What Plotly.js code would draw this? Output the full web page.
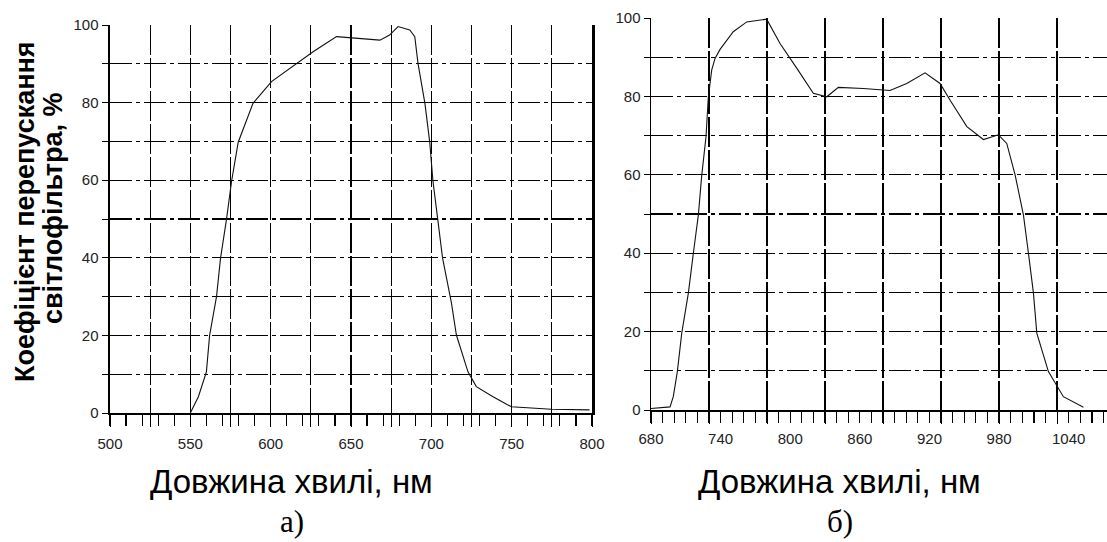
<!DOCTYPE html>
<html>
<head>
<meta charset="utf-8">
<script src="https://cdn.plot.ly/plotly-3.0.1.min.js"></script>
<style>html,body{margin:0;padding:0;background:#fff;}#chart{width:1107px;height:542px;}</style>
</head>
<body>
<div id="chart"></div>
<script>
// Panel a) : wavelength (nm) and transmittance (%)
const waveA = [550, 555, 560, 562, 566.3, 568.8, 572.5, 575.7, 579.8, 589, 600.5, 616, 626.4, 641, 651, 668, 674, 679.3, 686.6, 689.7, 691.7, 696, 699, 701, 704, 707, 712.5, 715.6, 722.8, 728, 738.4, 749.8, 774.7, 798.5];
const transA = [0, 4.2, 10.6, 20, 30, 39.9, 49.9, 59.8, 69.8, 79.8, 85.4, 90.1, 93.1, 97, 96.6, 96.1, 97.4, 99.6, 98.7, 97, 90.1, 79.8, 69.8, 59.8, 49.9, 39.9, 28.4, 20.1, 10.6, 6.8, 4.2, 1.6, 0.95, 0.8];

// Panel б)
const waveB = [680, 696.4, 699.2, 702.7, 706.5, 712.2, 716.5, 720.8, 723.7, 727.4, 729.4, 732.3, 735.2, 739.5, 750.9, 762.5, 779.7, 791.2, 805.6, 819.9, 831.5, 841.5, 863, 886, 900.4, 916.2, 929.1, 937.8, 952.2, 966.5, 979.4, 986.6, 993.8, 1001, 1005.3, 1009.6, 1012.5, 1022.5, 1035.4, 1052.7];
const transB = [0.4, 0.8, 3.4, 9.8, 19.6, 29.8, 40, 49.7, 59.8, 69.7, 79.8, 86.7, 89.7, 92, 96.5, 99, 99.7, 93.5, 87.2, 80.8, 79.9, 82.3, 82, 81.5, 83.3, 86, 83.3, 79, 72.3, 69, 70.2, 68, 60, 49.7, 40, 29.8, 19.6, 9.8, 3.4, 0.7];

// Tick definitions
const gridA = [500, 525, 550, 575, 600, 625, 650, 675, 700, 725, 750, 775, 800];
const gridLabelsA = ['500', '', '550', '', '600', '', '650', '', '700', '', '750', '', '800'];
const gridB = [680, 730, 780, 830, 880, 930, 980, 1030];
const labelB = [680, 740, 800, 860, 920, 980, 1040];
const labelTextB = ['680', '740', '800', '860', '920', '980', '1040'];
const gridY = [0, 10, 20, 30, 40, 50, 60, 70, 80, 90, 100];
const gridLabelsY = ['0', '', '20', '', '40', '', '60', '', '80', '', '100'];

const yTitle1 = 'Коефіцієнт перепускання';
const yTitle2 = 'світлофільтра, %';
const xTitle = 'Довжина хвилі, нм';
const panelA = 'а)';
const panelB = 'б)';

const W = 1107, H = 542;
const px = v => v / W;
const py = v => 1 - v / H;

const tickFont = {family: '"Liberation Sans Narrow", "Liberation Sans", Arial, sans-serif', size: 15, color: '#222'};
const gridCommon = {gridcolor: '#000', gridwidth: 1.3, showline: true, linecolor: '#000', zeroline: false, tickfont: tickFont, ticks: 'outside', tickcolor: '#000'};

const traces = [
  {x: waveA, y: transA, xaxis: 'x', yaxis: 'y', mode: 'lines', line: {color: '#111', width: 1.1}, hoverinfo: 'skip', showlegend: false},
  {x: waveB, y: transB, xaxis: 'x2', yaxis: 'y2', mode: 'lines', line: {color: '#111', width: 1.1}, hoverinfo: 'skip', showlegend: false},
  {x: waveB, y: transB, xaxis: 'x3', yaxis: 'y2', mode: 'lines', line: {color: 'rgba(0,0,0,0)', width: 0}, hoverinfo: 'skip', showlegend: false}
];

const layout = {
  width: W, height: H,
  margin: {l: 0, r: 0, t: 0, b: 0},
  paper_bgcolor: '#fff', plot_bgcolor: '#fff',
  showlegend: false,
  xaxis: Object.assign({}, gridCommon, {
    domain: [px(110), px(592)], anchor: 'y', range: [500, 800],
    tickmode: 'array', tickvals: gridA, ticktext: gridLabelsA,
    showgrid: true, griddash: '30px,3px', ticklen: 12, linewidth: 1.5, ticklabelstandoff: 4,
    minor: {dtick: 10, tick0: 500, ticks: 'outside', ticklen: 11, tickcolor: '#000', tickwidth: 1.2, showgrid: false}
  }),
  yaxis: Object.assign({}, gridCommon, {
    domain: [py(413), py(25)], anchor: 'x', range: [0, 100],
    tickmode: 'array', tickvals: gridY, ticktext: gridLabelsY,
    showgrid: true, griddash: '22px,4px,4px,4px', ticklen: 6, linewidth: 2.5, mirror: true
  }),
  xaxis2: Object.assign({}, gridCommon, {
    domain: [px(651), 1], anchor: 'y2', range: [680, 1073],
    tickmode: 'array', tickvals: gridB, ticktext: gridB.map(() => ''),
    showgrid: true, griddash: '30px,3px', ticklen: 12, linewidth: 1.5,
    minor: {dtick: 10, tick0: 680, ticks: 'outside', ticklen: 11, tickcolor: '#000', tickwidth: 1.2, showgrid: false}
  }),
  xaxis3: {
    overlaying: 'x2', anchor: 'y2', side: 'bottom', range: [680, 1073],
    tickmode: 'array', tickvals: labelB, ticktext: labelTextB,
    showgrid: false, showline: false, zeroline: false, ticks: '', ticklabelstandoff: 18,
    tickfont: tickFont
  },
  yaxis2: Object.assign({}, gridCommon, {
    domain: [py(410), py(18)], anchor: 'x2', range: [0, 100],
    tickmode: 'array', tickvals: gridY, ticktext: gridLabelsY,
    showgrid: true, griddash: '22px,4px,4px,4px', ticklen: 6, linewidth: 1.5
  }),
  annotations: [
    {text: '<b>' + yTitle1 + '</b>', xref: 'paper', yref: 'paper', x: px(25), y: py(212), textangle: -90, showarrow: false, font: {family: '"Liberation Sans", Arial, sans-serif', size: 27, color: '#000'}, xanchor: 'center', yanchor: 'middle'},
    {text: '<b>' + yTitle2 + '</b>', xref: 'paper', yref: 'paper', x: px(53), y: py(208), textangle: -90, showarrow: false, font: {family: '"Liberation Sans", Arial, sans-serif', size: 27, color: '#000'}, xanchor: 'center', yanchor: 'middle'},
    {text: xTitle, xref: 'paper', yref: 'paper', x: px(292), y: py(481), showarrow: false, font: {family: '"Liberation Sans", Arial, sans-serif', size: 33, color: '#000'}, xanchor: 'center', yanchor: 'middle'},
    {text: xTitle, xref: 'paper', yref: 'paper', x: px(839), y: py(481), showarrow: false, font: {family: '"Liberation Sans", Arial, sans-serif', size: 33, color: '#000'}, xanchor: 'center', yanchor: 'middle'},
    {text: panelA, xref: 'paper', yref: 'paper', x: px(292), y: py(521), showarrow: false, font: {family: '"Liberation Serif", "Times New Roman", serif', size: 31, color: '#000'}, xanchor: 'center', yanchor: 'middle'},
    {text: panelB, xref: 'paper', yref: 'paper', x: px(840), y: py(521), showarrow: false, font: {family: '"Liberation Serif", "Times New Roman", serif', size: 31, color: '#000'}, xanchor: 'center', yanchor: 'middle'}
  ]
};

Plotly.newPlot('chart', traces, layout, {staticPlot: true, displayModeBar: false});
</script>
</body>
</html>
